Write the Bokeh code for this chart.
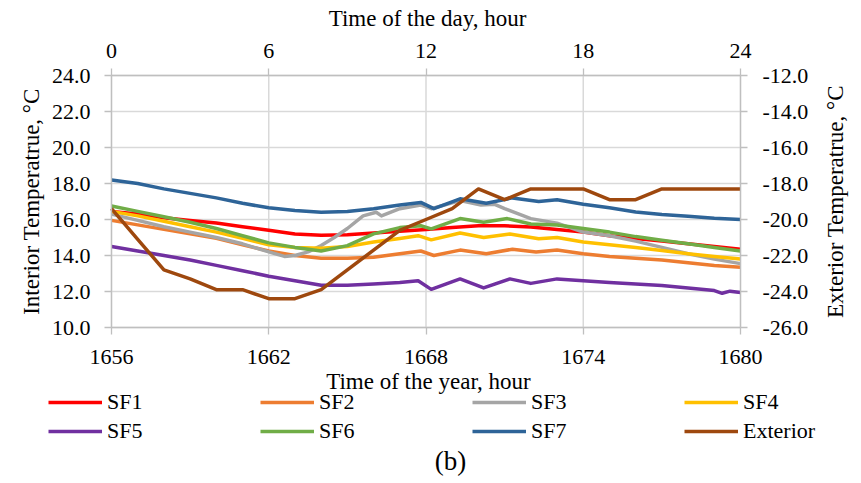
import math
from bokeh.plotting import figure
from bokeh.models import (Range1d, LinearAxis, FixedTicker, NumeralTickFormatter,
                          Legend, LegendItem, Label)
from bokeh.embed import file_html
from bokeh.resources import INLINE

# ---------------- data ----------------
sf1_hours = list(range(1656, 1681))
sf1_vals = [16.45, 16.3, 16.1, 15.95, 15.8, 15.6, 15.4, 15.2, 15.12, 15.15, 15.25, 15.35,
            15.45, 15.55, 15.65, 15.65, 15.58, 15.45, 15.3, 15.1, 14.95, 14.8, 14.65, 14.5, 14.35]

sf2_hours = [1656, 1657, 1658, 1659, 1660, 1661, 1662, 1663, 1664, 1665, 1666, 1667,
             1667.8, 1668.3, 1669.3, 1670.3, 1671.3, 1672.2, 1673,
             1674, 1675, 1676, 1677, 1678, 1679, 1680]
sf2_vals = [15.95, 15.7, 15.45, 15.2, 14.95, 14.6, 14.25, 14.0, 13.85, 13.85, 13.9, 14.1,
            14.25, 14.0, 14.3, 14.1, 14.35, 14.2, 14.3,
            14.1, 13.95, 13.85, 13.75, 13.6, 13.45, 13.35]

sf3_hours = [1656, 1657, 1658, 1659, 1660, 1661, 1662, 1662.6, 1663, 1663.5, 1664, 1664.5,
             1665, 1665.6, 1666.1, 1666.3, 1667, 1667.8, 1668.2, 1669.3, 1670.1, 1670.6,
             1671, 1672, 1673, 1674, 1675, 1676, 1677, 1678, 1679, 1680]
sf3_vals = [16.3, 15.95, 15.6, 15.3, 15.0, 14.65, 14.2, 13.95, 14.0, 14.2, 14.55, 15.0,
            15.5, 16.2, 16.4, 16.2, 16.6, 16.8, 16.6, 17.05, 16.8, 16.85,
            16.6, 16.05, 15.8, 15.3, 15.1, 14.8, 14.45, 14.1, 13.8, 13.55]

sf4_hours = [1656, 1657, 1658, 1659, 1660, 1661, 1662, 1663, 1664, 1665, 1666, 1667,
             1667.7, 1668.2, 1669.3, 1670.2, 1671.2, 1672.3, 1673,
             1674, 1675, 1676, 1677, 1678, 1679, 1680]
sf4_vals = [16.45, 16.2, 15.9, 15.6, 15.3, 14.95, 14.6, 14.45, 14.4, 14.5, 14.75, 14.95,
            15.1, 14.87, 15.25, 15.0, 15.2, 14.93, 15.0,
            14.75, 14.6, 14.45, 14.28, 14.1, 13.95, 13.8]

sf5_hours = [1656, 1657, 1658, 1659, 1660, 1661, 1662, 1663, 1664, 1665, 1666, 1667,
             1667.7, 1668.2, 1669.3, 1670.2, 1671.2, 1672, 1673, 1674, 1675, 1676,
             1677, 1678, 1679, 1679.3, 1679.6, 1680]
sf5_vals = [14.5, 14.25, 14.0, 13.75, 13.45, 13.15, 12.85, 12.6, 12.35, 12.35, 12.42, 12.5,
            12.6, 12.12, 12.7, 12.2, 12.7, 12.45, 12.7, 12.6, 12.5, 12.42,
            12.33, 12.2, 12.05, 11.9, 12.02, 11.95]

sf6_hours = [1656, 1657, 1658, 1659, 1660, 1661, 1662, 1663, 1664, 1665, 1666, 1667,
             1667.8, 1668.2, 1669.3, 1670.2, 1671.1, 1672, 1673,
             1674, 1675, 1676, 1677, 1678, 1679, 1680]
sf6_vals = [16.75, 16.45, 16.15, 15.85, 15.5, 15.1, 14.7, 14.45, 14.25, 14.55, 15.2, 15.55,
            15.65, 15.48, 16.05, 15.85, 16.05, 15.75, 15.7,
            15.5, 15.3, 15.05, 14.85, 14.65, 14.45, 14.25]

sf7_hours = [1656, 1657, 1658, 1659, 1660, 1661, 1662, 1663, 1664, 1665, 1666, 1667,
             1667.8, 1668.3, 1669.3, 1670.3, 1671.3, 1672.3, 1673,
             1674, 1675, 1676, 1677, 1678, 1679, 1680]
sf7_vals = [18.2, 18.0, 17.7, 17.45, 17.2, 16.9, 16.65, 16.5, 16.4, 16.45, 16.6, 16.8,
            16.95, 16.6, 17.15, 16.9, 17.2, 17.0, 17.1,
            16.85, 16.65, 16.42, 16.28, 16.18, 16.07, 16.0]

ext_hours = list(range(1656, 1681))
ext_vals = [-19.4, -21.1, -22.8, -23.3, -23.9, -23.9, -24.4, -24.4, -23.9, -22.8, -21.7, -20.6,
            -20.0, -19.4, -18.3, -18.9, -18.3, -18.3, -18.3, -18.9, -18.9, -18.3, -18.3, -18.3, -18.3]

year_ticks = [1656, 1662, 1668, 1674, 1680]
day_ticks = [0, 6, 12, 18, 24]
int_ticks = [10, 12, 14, 16, 18, 20, 22, 24]
ext_ticks = [-26, -24, -22, -20, -18, -16, -14, -12]

names = ["SF1", "SF2", "SF3", "SF4", "SF5", "SF6", "SF7", "Exterior"]
colors = ["#FF0000", "#ED7D31", "#A5A5A5", "#FFC000", "#7030A0", "#70AD47", "#2E6498", "#9E480E"]

# ---------------- geometry (page pixels of the plotting box) ----------------
W, H = 861, 483
BOX_L, BOX_R, BOX_T, BOX_B = 111, 740, 75, 327
X0, X1 = year_ticks[0], year_ticks[-1]
Y0, Y1 = int_ticks[0], int_ticks[-1]
E0, E1 = ext_ticks[0], ext_ticks[-1]
D0, D1 = day_ticks[0], day_ticks[-1]
kx = (BOX_R - BOX_L) / (X1 - X0)       # px per hour
ky = (BOX_B - BOX_T) / (Y1 - Y0)       # px per degree


def dx(px):
    return X0 + (px - BOX_L) / kx


def dy(py):
    return Y1 - (py - BOX_T) / ky


FONT = "Liberation Serif"
GRID = "#D9D9D9"
AXC = "#BFBFBF"

p = figure(width=W, height=H, output_backend="svg", toolbar_location=None,
           x_range=Range1d(dx(0), dx(W)), y_range=Range1d(dy(H), dy(0)),
           min_border=0, min_border_left=0, min_border_right=0,
           min_border_top=0, min_border_bottom=0)
p.outline_line_color = None
p.border_fill_color = "white"
p.background_fill_color = "white"
p.grid.visible = False
p.extra_x_ranges = {"day": Range1d(D0 + (0 - BOX_L) / kx, D0 + (W - BOX_L) / kx)}
p.extra_y_ranges = {"ext": Range1d(E1 - (H - BOX_T) / ky, E1 - (0 - BOX_T) / ky)}


def style_axis(ax, standoff):
    ax.axis_line_color = AXC
    ax.axis_line_width = 1.3
    ax.major_tick_line_color = AXC
    ax.major_tick_line_width = 1.3
    ax.major_tick_out = 7
    ax.major_tick_in = 0
    ax.minor_tick_line_color = None
    ax.major_label_text_font = FONT
    ax.major_label_text_font_size = "22px"
    ax.major_label_text_color = "black"
    ax.major_label_standoff = standoff


# grid lines (drawn from the tick arrays)
p.segment(x0=year_ticks, y0=[Y0] * len(year_ticks), x1=year_ticks, y1=[Y1] * len(year_ticks),
          line_color=GRID, line_width=1.5)
p.segment(x0=[X0] * len(int_ticks), y0=int_ticks, x1=[X1] * len(int_ticks), y1=int_ticks,
          line_color=GRID, line_width=1.5)

xa = p.xaxis[0]
xa.ticker = FixedTicker(ticks=year_ticks)
xa.fixed_location = Y0
xa.bounds = (X0, X1)
style_axis(xa, 15)

ya = p.yaxis[0]
ya.ticker = FixedTicker(ticks=int_ticks)
ya.formatter = NumeralTickFormatter(format="0.0")
ya.fixed_location = X0
ya.bounds = (Y0, Y1)
style_axis(ya, 14)

top = LinearAxis(x_range_name="day", ticker=FixedTicker(ticks=day_ticks),
                 fixed_location=Y1, bounds=(D0, D1))
style_axis(top, 11)
p.add_layout(top, "above")

right = LinearAxis(y_range_name="ext", ticker=FixedTicker(ticks=ext_ticks),
                   formatter=NumeralTickFormatter(format="0.0"),
                   fixed_location=X1, bounds=(E0, E1))
style_axis(right, 15)
p.add_layout(right, "right")

# data lines
series = [(sf1_hours, sf1_vals), (sf2_hours, sf2_vals), (sf3_hours, sf3_vals),
          (sf4_hours, sf4_vals), (sf5_hours, sf5_vals), (sf6_hours, sf6_vals),
          (sf7_hours, sf7_vals)]
renderers = []
for (hx, hy), c in zip(series, colors[:7]):
    renderers.append(p.line(hx, hy, line_color=c, line_width=3.5, line_join="round"))
renderers.append(p.line(ext_hours, ext_vals, line_color=colors[7], line_width=3.5,
                        line_join="round", y_range_name="ext"))


# axis titles and caption
def add_text(text, px, py, size, angle=0.0):
    p.add_layout(Label(x=dx(px), y=dy(py), text=text, angle=angle, text_font=FONT,
                       text_font_size=size, text_align="center", text_baseline="middle",
                       text_color="black"))


add_text("Time of the day, hour", 427, 18, "23px")
add_text("Time of the year, hour", 428, 381, "23px")
add_text("Interior Temperatrue, °C", 31, 201, "23px", math.pi / 2)
add_text("Exterior Temperatrue, °C", 835, 201, "23px", math.pi / 2)
add_text("(b)", 450, 460, "27px")

# legend
items = [LegendItem(label=n, renderers=[r]) for n, r in zip(names, renderers)]
legend = Legend(items=items, orientation="horizontal", ncols=4,
                location=(48, H - 444), padding=0, margin=0, spacing=3,
                glyph_width=54, glyph_height=22, label_width=150, label_height=22,
                label_standoff=5, border_line_color=None, background_fill_alpha=0,
                label_text_font=FONT, label_text_font_size="22px",
                label_text_font_style="normal", label_text_color="black")
p.add_layout(legend, "center")

open("out.html", "w").write(file_html(p, INLINE))
